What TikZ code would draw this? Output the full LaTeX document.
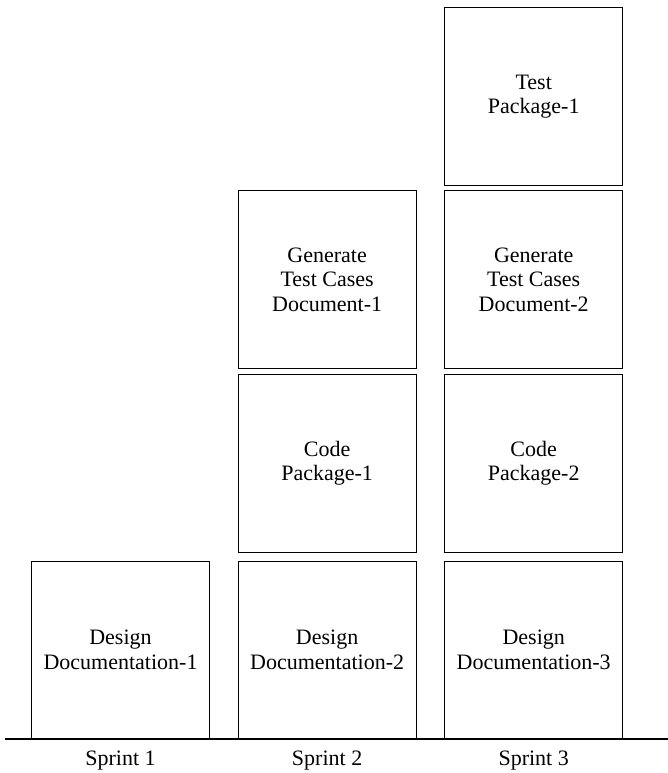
\documentclass[tikz,border=0pt]{standalone}
\usepackage{fontspec}
\setmainfont{Liberation Serif}
\usetikzlibrary{positioning}

\begin{document}
\begin{tikzpicture}[x=1pt,y=1pt,node distance=4.5pt,
    task/.style={draw,line width=0.9pt,minimum size=178pt,align=center,
                 font=\fontsize{22}{24.7}\selectfont},
    sprint/.style={font=\fontsize{22}{24.7}\selectfont}]
                            % \draw[help lines] (0,0) grid (668,773);
                            \useasboundingbox (0,0) rectangle (668,773);

                            \node[task]          (des1) at (120.5,123)          {Design\\Documentation-1};
                            \node[task]          (des2) [right=27.7pt of des1]  {Design\\Documentation-2};
                            \node[task]          (des3) [right=27.7pt of des2]  {Design\\Documentation-3};
                            \node[task]          (code1) [above=8pt of des2]    {Code\\Package-1};
                            \node[task]          (code2) [above=8pt of des3]    {Code\\Package-2};
                            \node[task]          (gen1) [above=of code1]        {Generate\\Test Cases\\Document-1};
                            \node[task]          (gen2) [above=of code2]        {Generate\\Test Cases\\Document-2};
                            \node[task]          (test1) [above=4pt of gen2]    {Test\\Package-1};

                            \node[sprint]        (sp1) [below=26pt of des1.south,anchor=base] {Sprint 1};
                            \node[sprint]        (sp2) [below=26pt of des2.south,anchor=base] {Sprint 2};
                            \node[sprint]        (sp3) [below=26pt of des3.south,anchor=base] {Sprint 3};

                            \coordinate (axisL) at (5,34);
                            \coordinate (axisR) at (668,34);
                            \draw[line width=2pt] (axisL) -- (axisR);
                        \end{tikzpicture}
\end{document}
